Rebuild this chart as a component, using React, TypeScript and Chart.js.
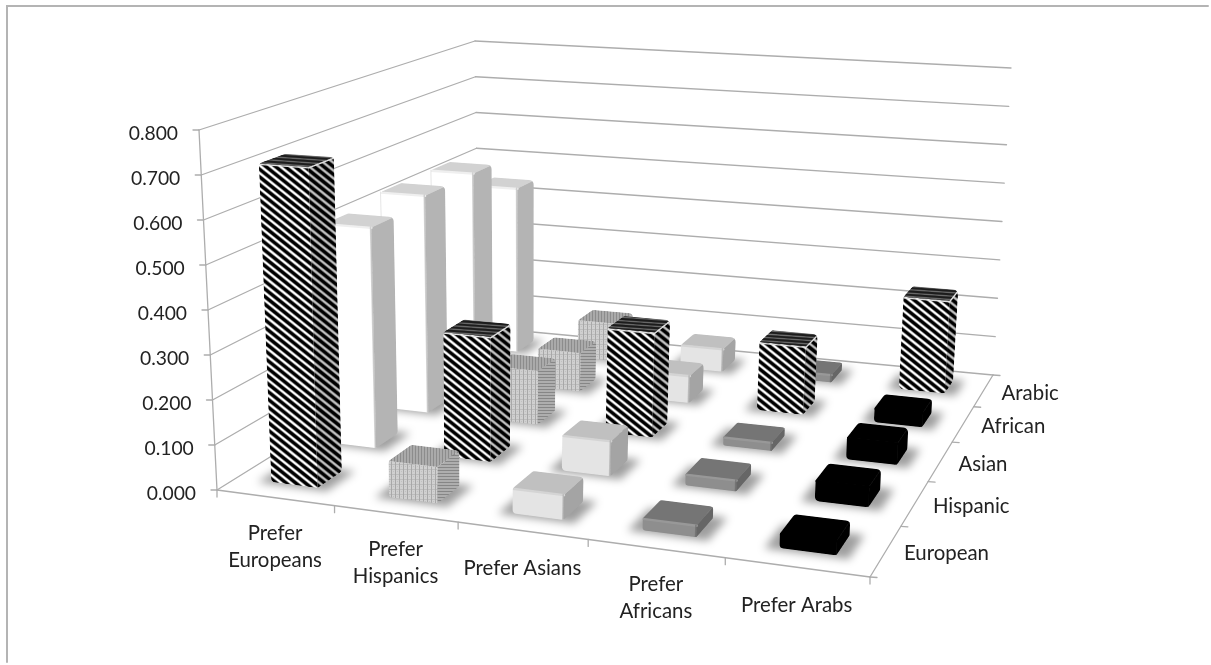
import React, { useEffect, useRef } from "react";
import { Chart, registerables } from "chart.js";

Chart.register(...registerables);

// Values per respondent group, one entry per preference column.
const preferences: (string | string[])[] = [
  ["Prefer", "Europeans"],
  ["Prefer", "Hispanics"],
  "Prefer Asians",
  ["Prefer", "Africans"],
  "Prefer Arabs",
];
const groups = ["European", "Hispanic", "Asian", "African", "Arabic"];
const europeanValues = [0.715, 0.08, 0.054, 0.025, 0.03];
const hispanicValues = [0.518, 0.288, 0.08, 0.025, 0.045];
const asianValues = [0.535, 0.13, 0.25, 0.02, 0.05];
const africanValues = [0.535, 0.098, 0.068, 0.168, 0.035];
const arabicValues = [0.44, 0.1, 0.06, 0.02, 0.235];
const seriesValues = [europeanValues, hispanicValues, asianValues, africanValues, arabicValues];

type Pt = [number, number];

// Box corners of the plot volume as seen by the camera.
const FLOOR: Pt[] = [[217, 490], [870, 577], [993, 375], [479, 327]];
const CEILING: Pt[] = [[199, 130], [884, 174], [1011, 68], [475, 41]];

// Maps the unit square onto a quadrilateral (perspective).
function unitSquareMap(q: Pt[]) {
  const [[x0, y0], [x1, y1], [x2, y2], [x3, y3]] = q;
  const dx1 = x1 - x2, dx2 = x3 - x2, sx = x0 - x1 + x2 - x3;
  const dy1 = y1 - y2, dy2 = y3 - y2, sy = y0 - y1 + y2 - y3;
  const det = dx1 * dy2 - dx2 * dy1;
  const g = (sx * dy2 - dx2 * sy) / det;
  const h = (dx1 * sy - sx * dy1) / det;
  const a = x1 - x0 + g * x1, b = x3 - x0 + h * x3;
  const d = y1 - y0 + g * y1, e = y3 - y0 + h * y3;
  return (u: number, w: number): Pt => {
    const k = g * u + h * w + 1;
    return [(a * u + b * w + x0) / k, (d * u + e * w + y0) / k];
  };
}
const floorAt = unitSquareMap(FLOOR);
const ceilingAt = unitSquareMap(CEILING);
const project = (u: number, w: number, v: number): Pt => {
  const f = floorAt(u, w), c = ceilingAt(u, w);
  return [f[0] + (c[0] - f[0]) * v, f[1] + (c[1] - f[1]) * v];
};

const FONT = "Lato, Carlito, sans-serif";
const LINE = "#adadad";
const TEXT = "#222222";

type Look = { front: string; side: string; top: string; edge: string };
const LOOKS: Record<string, Look> = {
  white: { front: "#ffffff", side: "#b4b4b4", top: "#d2d2d2", edge: "#efefef" },
  light: { front: "#e4e4e4", side: "#a4a4a4", top: "#c0c0c0", edge: "#d4d4d4" },
  gray: { front: "#8e8e8e", side: "#666666", top: "#757575", edge: "#989898" },
  black: { front: "#000000", side: "#000000", top: "#000000", edge: "#000000" },
};
const columnLooks = ["white", "dots", "light", "gray", "black"];
const swatches = ["#ffffff", "#c8c8c8", "#e4e4e4", "#8e8e8e", "#000000"];

function polygon(ctx: CanvasRenderingContext2D, pts: Pt[]) {
  ctx.beginPath();
  pts.forEach((p, i) => (i ? ctx.lineTo(p[0], p[1]) : ctx.moveTo(p[0], p[1])));
  ctx.closePath();
}

function roundedPolygon(ctx: CanvasRenderingContext2D, pts: Pt[], r: number) {
  const n = pts.length;
  const mid = (a: Pt, b: Pt): Pt => [(a[0] + b[0]) / 2, (a[1] + b[1]) / 2];
  const s = mid(pts[n - 1], pts[0]);
  ctx.beginPath();
  ctx.moveTo(s[0], s[1]);
  for (let i = 0; i < n; i++) {
    const p = pts[i], q = pts[(i + 1) % n];
    ctx.arcTo(p[0], p[1], q[0], q[1], r);
  }
  ctx.closePath();
}

// Diagonal hatching confined to a face; the phase is global so adjoining faces line up.
function hatch(
  ctx: CanvasRenderingContext2D, pts: Pt[], bg: string, ink: string, blur: string,
  slope: number, period: number, share: number,
) {
  ctx.save();
  polygon(ctx, pts);
  ctx.fillStyle = bg;
  ctx.fill();
  ctx.clip();
  const xs = pts.map((p) => p[0]), ys = pts.map((p) => p[1]);
  const x0 = Math.min(...xs), x1 = Math.max(...xs), y0 = Math.min(...ys), y1 = Math.max(...ys);
  const width = period * Math.cos(Math.atan(slope)) * share;
  const kMin = Math.floor((y0 - slope * x1) / period) - 1;
  const kMax = Math.ceil((y1 - slope * x0) / period) + 1;
  for (let pass = 0; pass < 2; pass++) {
    ctx.strokeStyle = pass ? ink : blur;
    ctx.lineWidth = pass ? width : width + 1.5;
    for (let k = kMin; k <= kMax; k++) {
      const t = k * period;
      ctx.beginPath();
      ctx.moveTo(x0 - 2, t + slope * (x0 - 2));
      ctx.lineTo(x1 + 2, t + slope * (x1 + 2));
      ctx.stroke();
    }
  }
  ctx.restore();
}

// Small repeating tile for the woven surfaces.
function wovenTile(ctx: CanvasRenderingContext2D, w: number, h: number, bg: string, paint: (t: CanvasRenderingContext2D) => void) {
  const c = document.createElement("canvas");
  c.width = w;
  c.height = h;
  const t = c.getContext("2d")!;
  t.fillStyle = bg;
  t.fillRect(0, 0, w, h);
  paint(t);
  return ctx.createPattern(c, "repeat")!;
}

function drawBox(ctx: CanvasRenderingContext2D, u0: number, u1: number, w0: number, w1: number, v: number, look: string) {
  const a = project(u0, w0, 0), b = project(u1, w0, 0), c = project(u1, w1, 0);
  const e = project(u0, w0, v), f = project(u1, w0, v), g = project(u1, w1, v), h = project(u0, w1, v);
  const du = (u1 - u0) * 0.24, dw = (w1 - w0) * 0.1;

  // Soft contact shadow on the floor.
  ctx.save();
  ctx.filter = "blur(4px)";
  ctx.fillStyle = "rgba(0,0,0,0.38)";
  polygon(ctx, [floorAt(u0 - du, w0 - dw), floorAt(u1 + du, w0 - dw), floorAt(u1 + du, w1 + dw), floorAt(u0 - du, w1 + dw)]);
  ctx.fill();
  ctx.restore();

  ctx.save();
  roundedPolygon(ctx, [a, b, c, g, h, e], Math.min(5, Math.hypot(b[0] - f[0], b[1] - f[1]) * 0.3));
  ctx.clip();
  const frontFace = [a, b, f, e], sideFace = [b, c, g, f], topFace = [e, f, g, h];

  if (look === "stripes") {
    hatch(ctx, frontFace, "#ffffff", "#000000", "#808080", 0.8, 7.7, 0.47);
    hatch(ctx, sideFace, "#c0c0c0", "#000000", "#606060", 0.8, 7.7, 0.47);
    hatch(ctx, topFace, "#a8a8a8", "#1c1c1c", "#555555", 0.07, 3.4, 0.55);
    ctx.strokeStyle = "#e2e2e2";
    ctx.lineWidth = 1.3;
    ctx.beginPath();
    ctx.moveTo(e[0], e[1] + 1);
    ctx.lineTo(f[0], f[1] + 1);
    ctx.lineTo(g[0], g[1] + 1);
    ctx.stroke();
  } else if (look === "dots") {
    ctx.fillStyle = wovenTile(ctx, 4, 5, "#d0d0d0", (t) => {
      t.fillStyle = "#a8a8a8";
      t.fillRect(3, 0, 1, 5);
      t.fillStyle = "#bcbcbc";
      t.fillRect(0, 4, 3, 1);
      t.fillStyle = "#c0c0c0";
      t.fillRect(1, 1, 1, 1);
    });
    polygon(ctx, frontFace);
    ctx.fill();
    ctx.fillStyle = wovenTile(ctx, 3, 3, "#aeaeae", (t) => {
      t.fillStyle = "#868686";
      t.fillRect(0, 2, 3, 1);
    });
    polygon(ctx, sideFace);
    ctx.fill();
    ctx.fillStyle = wovenTile(ctx, 3, 2, "#aaaaaa", (t) => {
      t.fillStyle = "#8c8c8c";
      t.fillRect(1, 0, 1, 2);
    });
    polygon(ctx, topFace);
    ctx.fill();
  } else {
    const s = LOOKS[look];
    for (const [pts, col] of [[frontFace, s.front], [sideFace, s.side], [topFace, s.top]] as [Pt[], string][]) {
      polygon(ctx, pts);
      ctx.fillStyle = col;
      ctx.strokeStyle = col;
      ctx.lineWidth = 0.6;
      ctx.fill();
      ctx.stroke();
    }
    // Bevel along the upper front edge and front corner.
    ctx.strokeStyle = s.edge;
    ctx.lineWidth = 2.4;
    ctx.beginPath();
    ctx.moveTo(e[0], e[1] + 0.5);
    ctx.lineTo(f[0], f[1] + 0.5);
    ctx.stroke();
    ctx.strokeStyle = s.side;
    ctx.globalAlpha = 0.55;
    ctx.lineWidth = 1.6;
    ctx.beginPath();
    ctx.moveTo(b[0] - 0.8, b[1]);
    ctx.lineTo(f[0] - 0.8, f[1]);
    ctx.stroke();
    ctx.globalAlpha = 1;
  }
  ctx.restore();
  if (look === "white") {
    ctx.strokeStyle = "rgba(0,0,0,0.1)";
    ctx.lineWidth = 1;
    ctx.beginPath();
    ctx.moveTo(e[0], e[1]);
    ctx.lineTo(a[0], a[1]);
    ctx.stroke();
  }
}

function segment(ctx: CanvasRenderingContext2D, p: Pt, q: Pt) {
  ctx.beginPath();
  ctx.moveTo(p[0], p[1]);
  ctx.lineTo(q[0], q[1]);
  ctx.stroke();
}

const box3d = {
  id: "box3d",
  // The flat bars only supply the geometry; the volume is painted in their place.
  beforeDatasetsDraw(chart: any) {
    const ctx: CanvasRenderingContext2D = chart.ctx;
    const { x: xs, y: ys } = chart.scales;
    const area = chart.chartArea;
    const rows = chart.data.datasets.length;
    const cols = xs.getLabels().length;
    const maxValue = ys.max;

    ctx.save();
    ctx.lineCap = "round";

    // Frame along the upper and left edges.
    ctx.strokeStyle = "#b4b4b4";
    ctx.lineWidth = 2;
    ctx.beginPath();
    ctx.moveTo(chart.width - 3, 6);
    ctx.lineTo(7, 6);
    ctx.lineTo(7, chart.height - 3);
    ctx.stroke();

    // Walls and value labels.
    ctx.strokeStyle = LINE;
    ctx.lineWidth = 1.3;
    ctx.font = `19.3px ${FONT}`;
    ctx.fillStyle = TEXT;
    ctx.textAlign = "right";
    ctx.textBaseline = "middle";
    for (const tick of ys.ticks) {
      const v = tick.value / maxValue;
      const front = project(0, 0, v), back = project(0, 1, v), right = project(1, 1, v);
      segment(ctx, front, back);
      segment(ctx, back, right);
      segment(ctx, [front[0] - 6, front[1]], front);
      ctx.fillText(tick.value.toFixed(3), front[0] - 21, front[1] + 3.5);
    }
    segment(ctx, project(0, 0, 0), project(0, 0, 1));

    // Floor edges with their tick marks.
    segment(ctx, floorAt(0, 0), floorAt(1, 0));
    segment(ctx, floorAt(1, 0), floorAt(1, 1));
    for (let i = 0; i <= cols; i++) {
      const p = floorAt(i / cols, 0);
      segment(ctx, p, [p[0], p[1] + 7]);
    }
    for (let j = 0; j <= rows; j++) {
      const p = floorAt(1, j / rows);
      segment(ctx, p, [p[0] + 7, p[1] + 0.5]);
    }

    // Category labels in front, group labels on the right.
    ctx.font = `20.4px ${FONT}`;
    ctx.textAlign = "center";
    ctx.textBaseline = "middle";
    xs.getLabels().forEach((label: string | string[], i: number) => {
      const p = floorAt((i + 0.5) / cols, 0);
      const lines = Array.isArray(label) ? label : [label];
      lines.forEach((text, k) => {
        ctx.fillText(text, p[0], p[1] + (lines.length > 1 ? 36 : 38) + k * 27);
      });
    });
    ctx.textAlign = "left";
    chart.data.datasets.forEach((ds: any, j: number) => {
      const p = floorAt(1, (j + 0.5) / rows);
      ctx.fillText(ds.label, p[0] + 18, p[1] + 3);
    });

    // Boxes, furthest row first.
    for (let j = rows - 1; j >= 0; j--) {
      const bars = chart.getDatasetMeta(j).data;
      bars.forEach((bar: any, i: number) => {
        const u0 = (bar.x - bar.width / 2 - area.left) / area.width;
        const u1 = (bar.x + bar.width / 2 - area.left) / area.width;
        const w0 = (j + 0.3) / rows;
        const w1 = (j + 0.7) / rows;
        const v = (bar.base - bar.y) / area.height;
        drawBox(ctx, u0, u1, w0, w1, v, i === j ? "stripes" : columnLooks[i]);
      });
    }
    ctx.restore();
    return false;
  },
};

export default function App() {
  const ref = useRef<HTMLCanvasElement>(null);
  useEffect(() => {
    const chart = new Chart(ref.current!, {
      type: "bar",
      data: {
        labels: preferences as any,
        datasets: groups.map((label, j) => ({
          label,
          data: seriesValues[j],
          backgroundColor: swatches.map((c, i) => (i === j ? "#444444" : c)),
        })),
      },
      options: {
        responsive: false,
        animation: false,
        layout: { padding: { left: 217, right: 341, top: 130, bottom: 175 } },
        plugins: { legend: { display: false }, tooltip: { enabled: false } },
        datasets: { bar: { grouped: false, categoryPercentage: 1, barPercentage: 0.4 } },
        scales: {
          x: { display: false },
          y: { display: false, min: 0, max: 0.8, ticks: { stepSize: 0.1 } },
        },
      } as any,
      plugins: [box3d as any],
    });
    return () => chart.destroy();
  }, []);
  return (
    <div style={{ position: "absolute", left: 0, top: 0, width: 1211, height: 665, background: "#fff" }}>
      <canvas ref={ref} width={1211} height={665} style={{ display: "block" }} />
    </div>
  );
}
